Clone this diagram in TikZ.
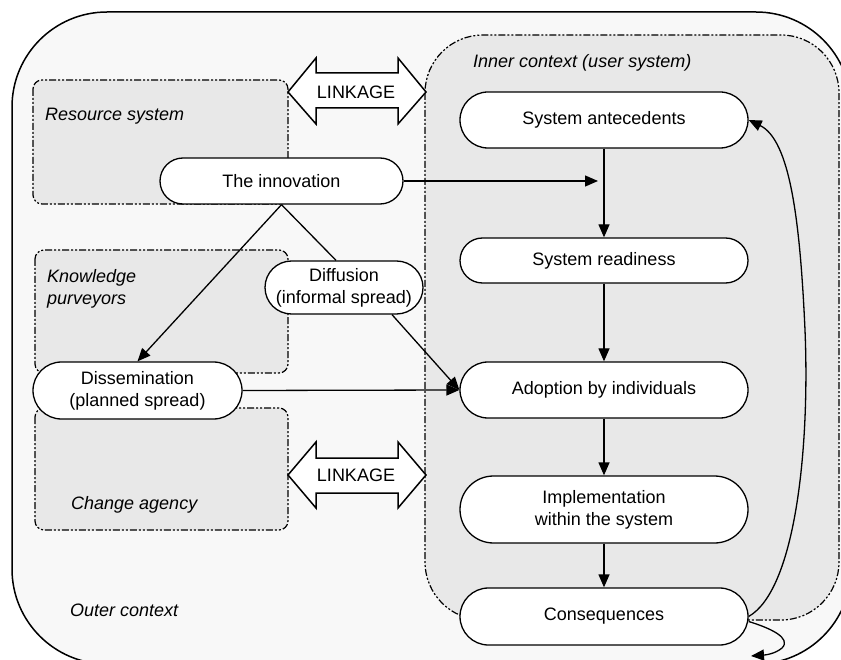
\documentclass[tikz,border=0pt]{standalone}
\usepackage{fontspec}
\setmainfont{Liberation Sans}
\usetikzlibrary{arrows.meta,shapes.misc,calc}
\definecolor{outerfill}{HTML}{F8F8F8}
\definecolor{innerfill}{HTML}{E8E8E8}
\tikzset{
  nodebox/.style={draw, fill=white, line width=1.3pt, rounded rectangle,
    inner sep=0pt, align=center},
  dashdot/.style={line width=1.2pt, dash pattern=on 7pt off 2pt on 2pt off 2pt on 2pt off 2pt},
  subbox/.style={dashdot, fill=innerfill, rounded corners=9pt},
  arr/.style={line width=1.3pt, -{Triangle[length=13pt,width=11pt]}},
  conn/.style={line width=1.3pt},
  lab/.style={font=\fontsize{18}{22}\selectfont\itshape, anchor=west, align=left, inner sep=0pt},
  linkshape/.style={draw, fill=white, line width=1.5pt, line join=miter},
}
\begin{document}
\begin{tikzpicture}[x=1pt,y=-1pt,font=\fontsize{18}{22}\selectfont]
\useasboundingbox (0,0) rectangle (841,660);
% outer context
\draw[line width=1.5pt, fill=outerfill, rounded corners=95pt] (12,12) rectangle (851,664);
% inner context
\draw[dashdot, fill=innerfill, rounded corners=58pt] (425,35) rectangle (839,620);
% sub systems
\draw[subbox] (33,80) rectangle (288,204);
\draw[subbox] (35,250) rectangle (288,373);
\draw[subbox] (35,408) rectangle (288,530);
% linkage arrows
\draw[linkshape] (288,92) -- (316,58) -- (316,73) -- (398,73) -- (398,58) -- (426,92)
  -- (398,124) -- (398,108) -- (316,108) -- (316,124) -- cycle;
\node (link1) at (356,92) {LINKAGE};
\draw[linkshape] (288,475) -- (316,442) -- (316,458) -- (398,458) -- (398,442) -- (426,475)
  -- (398,508) -- (398,493) -- (316,493) -- (316,508) -- cycle;
\node (link2) at (356,475) {LINKAGE};
% labels
\node[lab] (lres) at (45,116) {Resource system};
\node[lab] (lknow) at (47,289) {Knowledge\\purveyors};
\node[lab] (lchange) at (71,505) {Change agency};
\node[lab] (louter) at (70,610) {Outer context};
\node[lab] (linner) at (473,63) {Inner context (user system)};
% nodes
\node[nodebox, minimum width=243pt, minimum height=46pt] (inno) at (281.5,181) {The innovation};
\node[nodebox, minimum width=158pt, minimum height=53pt] (diff) at (344,287.5) {Diffusion\\(informal spread)};
\node[nodebox, minimum width=209pt, minimum height=57pt] (diss) at (137.5,390.5) {Dissemination\\(planned spread)};
\node[nodebox, minimum width=288pt, minimum height=56pt] (ante) at (604,120) {System antecedents};
\node[nodebox, minimum width=288pt, minimum height=45pt] (ready) at (604,260.5) {System readiness};
\node[nodebox, minimum width=288pt, minimum height=56pt] (adopt) at (604,390) {Adoption by individuals};
\node[nodebox, minimum width=288pt, minimum height=67pt] (impl) at (604,509.5) {Implementation\\within the system};
\node[nodebox, minimum width=288pt, minimum height=57pt] (cons) at (604,616.5) {Consequences};
% connectors
\coordinate (hit) at (598,181);
\draw[arr] (inno.east) -- (hit);
\draw[arr] (ante.south) -- (ready.north);
\draw[arr] (ready.south) -- (adopt.north);
\draw[arr] (adopt.south) -- (impl.north);
\draw[arr] (impl.south) -- (cons.north);
\draw[arr] (inno.south) -- (diss.north);
\draw[conn] (inno.south) -- ([xshift=-8pt]diff.north);
\draw[arr] ([xshift=48pt]diff.south) -- (adopt.west);
\draw[arr] (diss.east) -- (adopt.west);
\draw[arr] (cons.east) .. controls (795,590) and (810,450) .. (805,330)
  .. controls (800,220) and (790,140) .. (ante.east);
\coordinate (loopend) at (751,656);
\draw[arr] ([yshift=-5pt]cons.east) .. controls (770,628) and (792,638) .. (782,648)
  .. controls (775,654) and (765,655) .. (loopend);
\end{tikzpicture}
\end{document}
